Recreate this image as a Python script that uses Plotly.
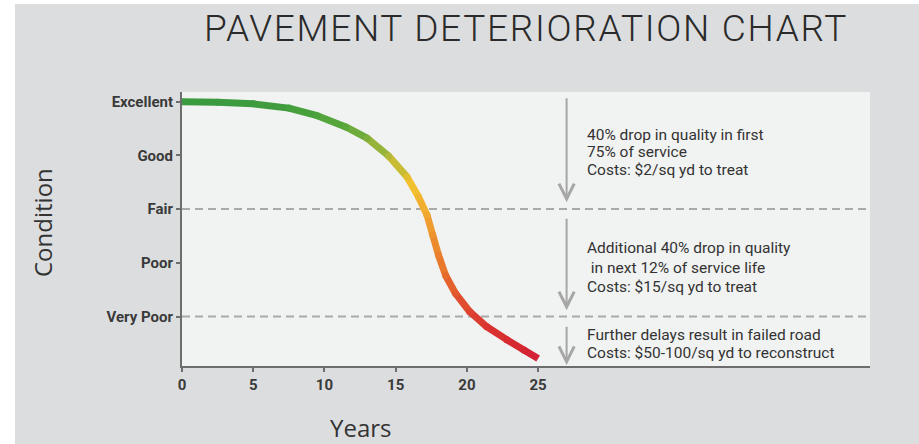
import plotly.graph_objects as go
from plotly.colors import sample_colorscale

# ---- data ----
years = [0, 2.5, 5, 7.5, 9.5, 11.5, 13, 14.5, 15.8, 16.6, 17.2, 17.6, 18, 18.5, 19.2, 20.2, 21.4, 22.8, 24, 25]
condition = [5.0, 4.99, 4.96, 4.88, 4.74, 4.53, 4.32, 3.99, 3.60, 3.23, 2.89, 2.52, 2.15, 1.77, 1.43, 1.09, 0.81, 0.57, 0.38, 0.22]

cond_tickvals = [1, 2, 3, 4, 5]
cond_ticktext = ["Very Poor", "Poor", "Fair", "Good", "Excellent"]
year_ticks = [0, 5, 10, 15, 20, 25]
threshold_levels = [3, 1]  # Fair, Very Poor

notes_1 = ["40% drop in quality in first", "75% of service", "Costs: $2/sq yd to treat"]
notes_2 = ["Additional 40% drop in quality", " in next 12% of service life", "Costs: $15/sq yd to treat"]
notes_3 = ["Further delays result in failed road", "Costs: $50-100/sq yd to reconstruct"]

# ---- styling ----
Y_MIN, Y_MAX = 0.08, 5.18
X_MAX = 48.3
grad = [
    [0.00, "#d21f33"],
    [0.15, "#dc3a2f"],
    [0.35, "#e8732c"],
    [0.55, "#f0a531"],
    [0.68, "#f2c12e"],
    [0.80, "#a9b83a"],
    [0.90, "#5ca83c"],
    [1.00, "#3a9a3e"],
]

def cnorm(c):
    return max(0.0, min(1.0, (c - 0.22) / (5.0 - 0.22)))

fig = go.Figure()

# gradient curve: one short trace per segment
for i in range(len(years) - 1):
    mid = (condition[i] + condition[i + 1]) / 2
    col = sample_colorscale(grad, [cnorm(mid)])[0]
    fig.add_trace(go.Scatter(
        x=[years[i], years[i + 1]], y=[condition[i], condition[i + 1]],
        mode="lines", line=dict(color=col, width=7),
        hoverinfo="skip", showlegend=False))
# joints
fig.add_trace(go.Scatter(
    x=years[1:-1], y=condition[1:-1], mode="markers",
    marker=dict(size=7, color=[cnorm(c) for c in condition[1:-1]], colorscale=grad,
                cmin=0, cmax=1, line=dict(width=0)),
    hoverinfo="skip", showlegend=False))

shapes = []
for lvl in threshold_levels:
    shapes.append(dict(type="line", xref="paper", x0=0, x1=1, yref="y", y0=lvl, y1=lvl,
                       line=dict(color="#a9a9a9", width=2, dash="8px,5px"), layer="below"))

# white page edges around the grey card
def px2paper_x(px):
    return (px - 182) / 688
def px2paper_y(py):
    return (366 - py) / 274

shapes.append(dict(type="rect", xref="paper", yref="paper",
                   x0=px2paper_x(0), x1=px2paper_x(15), y0=px2paper_y(444), y1=px2paper_y(0),
                   fillcolor="white", line=dict(width=0)))
shapes.append(dict(type="rect", xref="paper", yref="paper",
                   x0=px2paper_x(0), x1=px2paper_x(919), y0=px2paper_y(4), y1=px2paper_y(0),
                   fillcolor="white", line=dict(width=0)))

annotations = []
arrow_x = 27.0
for y_tail, y_head in [(5.09, 3.13), (2.85, 1.12), (0.84, 0.10)]:
    annotations.append(dict(x=arrow_x, y=y_head, ax=arrow_x, ay=y_tail, xref="x", yref="y",
                            axref="x", ayref="y", text="", showarrow=True,
                            arrowhead=5, arrowsize=1.5, arrowwidth=2, arrowcolor="#a6a6a6"))

note_font = dict(family="Roboto", size=15.5, color="#333333")
text_x = 28.3
for lines, ys in [(notes_1, [4.38, 4.06, 3.72]), (notes_2, [2.28, 1.90, 1.55]), (notes_3, [0.66, 0.32])]:
    for line, yv in zip(lines, ys):
        annotations.append(dict(x=text_x, y=yv, xref="x", yref="y", text=line, showarrow=False,
                                xanchor="left", yanchor="middle", align="left", font=note_font))

annotations.append(dict(x=px2paper_x(42), y=px2paper_y(223), xref="paper", yref="paper",
                        xanchor="center", yanchor="middle",
                        text="Condition", textangle=-90, showarrow=False,
                        font=dict(family="Open Sans", size=24, color="#333333")))
annotations.append(dict(x=px2paper_x(360), y=px2paper_y(427), xref="paper", yref="paper",
                        xanchor="center", yanchor="middle",
                        text="Years", showarrow=False,
                        font=dict(family="Open Sans", size=24, color="#333333")))

fig.update_layout(
    width=919, height=444,
    margin=dict(l=182, r=49, t=92, b=78),
    paper_bgcolor="#dcdddf",
    plot_bgcolor="#f1f2f2",
    title=dict(text="PAVEMENT DETERIORATION CHART", x=0.5, xref="paper", xanchor="center",
               y=1 - 28 / 444, yref="container", yanchor="middle",
               font=dict(family="Roboto", size=37, color="#2a2a2a", weight=300)),
    shapes=shapes,
    annotations=annotations,
    showlegend=False,
)
fig.update_xaxes(range=[0, X_MAX], tickvals=year_ticks, showgrid=False, zeroline=False,
                 showline=True, linecolor="#6d6d6d", linewidth=2,
                 ticks="outside", ticklen=4, tickwidth=2, tickcolor="#6d6d6d",
                 tickfont=dict(family="Roboto", size=15, color="#3a3a3a", weight="bold"))
fig.update_yaxes(range=[Y_MIN, Y_MAX], tickvals=cond_tickvals, ticktext=cond_ticktext,
                 showgrid=False, zeroline=False,
                 showline=True, linecolor="#6d6d6d", linewidth=2,
                 ticks="outside", ticklen=4, tickwidth=1.5, tickcolor="#6d6d6d",
                 tickfont=dict(family="Roboto", size=15, color="#3a3a3a", weight="bold"))

fig.write_html(
    "out.html",
    config={"displayModeBar": False},
    post_script=("document.body.style.margin='0';"
                 "var t=document.querySelector('.gtitle');"
                 "if(t){t.style.letterSpacing='1.7px';}"),
)
